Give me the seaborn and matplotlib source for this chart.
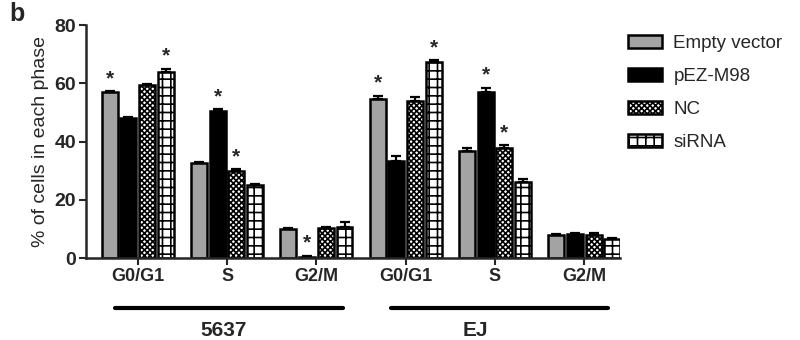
import pandas as pd
import seaborn as sns
import matplotlib.pyplot as plt
from matplotlib.patches import Patch
import matplotlib.transforms as mtransforms

cells = ["5637", "5637", "5637", "EJ", "EJ", "EJ"]
phases = ["G0/G1", "S", "G2/M", "G0/G1", "S", "G2/M"]
groups = ["Empty vector", "pEZ-M98", "NC", "siRNA"]

empty_vec = [57.0, 32.5, 10.0, 54.5, 36.8, 8.0]
pez_m98 = [48.2, 50.5, 0.5, 33.5, 57.2, 8.3]
nc = [59.3, 30.0, 10.3, 53.8, 37.8, 8.0]
sirna = [63.8, 25.0, 10.5, 67.2, 26.0, 6.5]

empty_err = [0.4, 0.5, 0.4, 1.3, 1.0, 0.3]
pez_err = [0.4, 0.6, 0.3, 1.5, 1.3, 0.3]
nc_err = [0.4, 0.5, 0.4, 1.6, 1.0, 0.5]
sirna_err = [1.3, 0.4, 1.8, 0.8, 1.0, 0.4]

# which bars carry a star
stars = {
    "Empty vector": [1, 0, 0, 1, 0, 0],
    "pEZ-M98": [0, 1, 1, 0, 1, 0],
    "NC": [0, 1, 0, 0, 1, 0],
    "siRNA": [1, 0, 0, 1, 0, 0],
}

keys = [c + " " + p for c, p in zip(cells, phases)]
vals = [empty_vec, pez_m98, nc, sirna]
errs = [empty_err, pez_err, nc_err, sirna_err]

rows = []
for g, v in zip(groups, vals):
    for k, y in zip(keys, v):
        rows.append({"key": k, "group": g, "value": y})
df = pd.DataFrame(rows)

sns.set_style("ticks")
plt.rcParams["font.family"] = ["Liberation Sans", "DejaVu Sans"]
plt.rcParams["hatch.linewidth"] = 1.2

colors = {"Empty vector": "#a3a3a3", "pEZ-M98": "black", "NC": "white", "siRNA": "white"}
hatches = {"Empty vector": "", "pEZ-M98": "", "NC": "xxxxxx", "siRNA": "++"}

fig = plt.figure(figsize=(8, 3.4), dpi=100)
ax = fig.add_axes([0.1075, 0.241, 0.6675, 0.685])

sns.barplot(data=df, x="key", y="value", hue="group", order=keys, hue_order=groups,
            palette=colors, width=0.84, gap=0.15, errorbar=None, legend=False,
            edgecolor="black", linewidth=1.8, ax=ax)

for cont, g, e in zip(ax.containers, groups, errs):
    xs, ys = [], []
    for bar, err, st in zip(cont, e, stars[g]):
        bar.set_hatch(hatches[g])
        x = bar.get_x() + bar.get_width() / 2
        y = bar.get_height()
        xs.append(x)
        ys.append(y)
        if st:
            ax.text(x, y + err + 1.0, "*", ha="center", va="bottom",
                    fontsize=15, fontweight="bold")
    ax.errorbar(xs, ys, yerr=[[0] * len(e), e], fmt="none", ecolor="black",
                elinewidth=1.6, capsize=3.5, capthick=1.6)

ax.set_xlim(-0.58, 5.4)
ax.set_ylim(0, 80)
ax.set_yticks([0, 20, 40, 60, 80])
ax.set_xticks(range(6))
ax.set_xticklabels(phases, fontsize=13, fontweight="bold")
for t in ax.get_yticklabels():
    t.set_fontsize(14)
    t.set_fontweight("bold")
ax.set_xlabel("")
ax.set_ylabel("% of cells in each phase", fontsize=14, labelpad=4)
sns.despine(ax=ax)
for s in ["left", "bottom"]:
    ax.spines[s].set_linewidth(1.8)
ax.tick_params(axis="both", width=1.5, length=5, pad=2)

# cell line brackets below the axis
trans = mtransforms.blended_transform_factory(ax.transData, ax.transAxes)
for x0, x1, xc, lab in [(-0.26, 2.30, 0.96, "5637"), (2.84, 5.27, 3.78, "EJ")]:
    ax.plot([x0, x1], [-0.215, -0.215], color="black", lw=3, solid_capstyle="round",
            transform=trans, clip_on=False)
    ax.text(xc, -0.335, lab, transform=trans, ha="center", va="baseline",
            fontsize=15, fontweight="bold")

handles = [Patch(facecolor=colors[g], edgecolor="black", hatch=hatches[g], linewidth=1.8)
           for g in groups]
ax.legend(handles, groups, loc="upper left", bbox_to_anchor=(0.775, 0.92),
          bbox_transform=fig.transFigure, frameon=False, fontsize=13.5,
          borderpad=0.2, borderaxespad=0.2,
          handlelength=1.85, handleheight=0.7, labelspacing=0.85, handletextpad=0.6)

fig.text(0.012, 0.96, "b", fontsize=18, fontweight="bold", va="center")

fig.savefig("out.png", dpi=100)
